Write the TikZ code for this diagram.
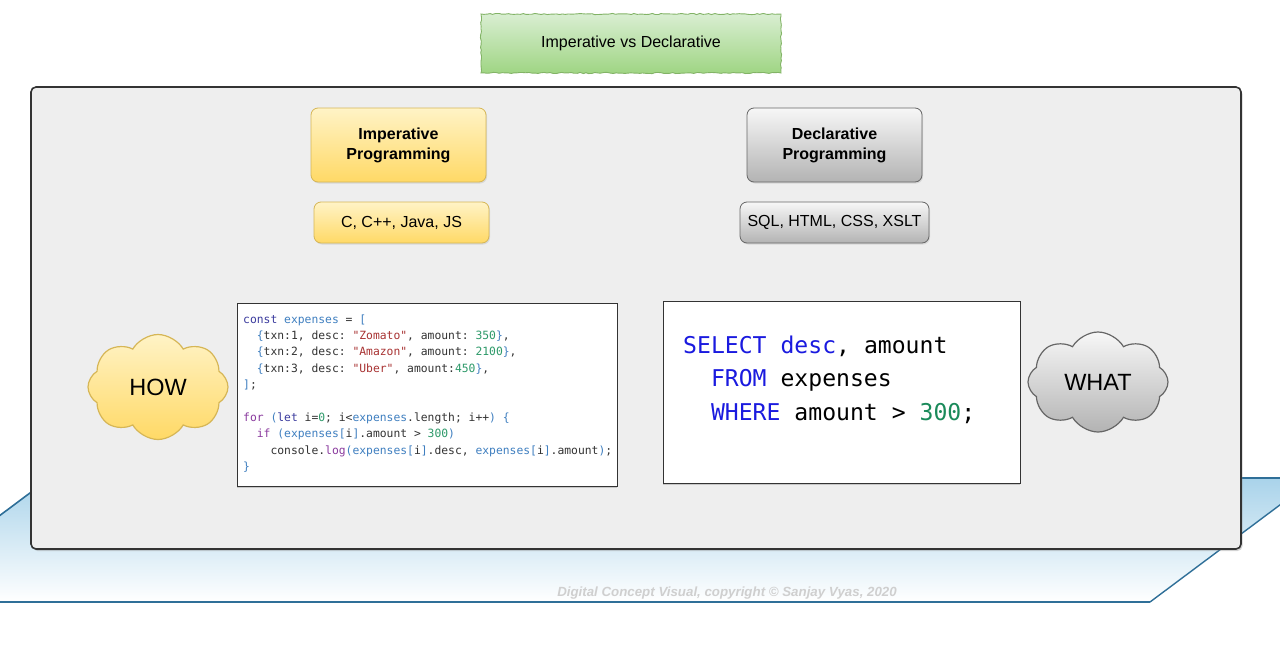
\documentclass[tikz,border=0pt]{standalone}
\usepackage{fontspec}
\setmainfont{Liberation Sans}
\newfontfamily\codefont{DejaVu Sans Mono}
\usetikzlibrary{shapes.symbols,shadows,decorations.pathmorphing}
\definecolor{panelfill}{HTML}{EEEEEE}
\definecolor{paneldraw}{HTML}{333333}
\definecolor{yeltop}{HTML}{FFF3C6}
\definecolor{yelbot}{HTML}{FFD966}
\definecolor{yeldraw}{HTML}{D6B656}
\definecolor{graytop}{HTML}{F7F7F7}
\definecolor{graybot}{HTML}{B3B3B3}
\definecolor{graydraw}{HTML}{666666}
\definecolor{grntop}{HTML}{D9EED2}
\definecolor{grnbot}{HTML}{9FD583}
\definecolor{grndraw}{HTML}{82B366}
\definecolor{bandtop}{HTML}{A9D3EA}
\definecolor{bandline}{HTML}{2F6F98}
\definecolor{ckw}{HTML}{8A3A9E}
\definecolor{ccst}{HTML}{3B3B9E}
\definecolor{cvar}{HTML}{3F7FC0}
\definecolor{cstr}{HTML}{A83232}
\definecolor{cnum}{HTML}{2E9A6A}
\definecolor{cpl}{HTML}{333333}
\definecolor{sqlkw}{HTML}{1A1ADF}
\definecolor{sqlnum}{HTML}{1A8A5A}
\definecolor{copy}{HTML}{CFCFCF}
\newcommand{\KW}[1]{\textcolor{ckw}{#1}}
\newcommand{\CS}[1]{\textcolor{ccst}{#1}}
\newcommand{\VR}[1]{\textcolor{cvar}{#1}}
\newcommand{\ST}[1]{\textcolor{cstr}{#1}}
\newcommand{\NM}[1]{\textcolor{cnum}{#1}}
\newcommand{\SK}[1]{\textcolor{sqlkw}{#1}}
\newcommand{\SN}[1]{\textcolor{sqlnum}{#1}}
\tikzset{
  x=1pt, y=-1pt,
  panelbox/.style={draw=paneldraw, line width=1.6pt, fill=panelfill, rounded corners=5pt,
    minimum width=1210pt, minimum height=462pt, inner sep=0pt,
    drop shadow={opacity=0.35, shadow xshift=1.5pt, shadow yshift=-2pt}},
  yelbox/.style={draw=yeldraw, line width=0.8pt, top color=yeltop, bottom color=yelbot,
    rounded corners=7pt, inner sep=0pt, align=center, font=\fontsize{16}{19}\selectfont,
    drop shadow={opacity=0.2, shadow xshift=1pt, shadow yshift=-1.5pt}},
  graybox/.style={draw=graydraw, line width=0.8pt, top color=graytop, bottom color=graybot,
    rounded corners=7pt, inner sep=0pt, align=center, font=\fontsize{16}{19}\selectfont,
    drop shadow={opacity=0.2, shadow xshift=1pt, shadow yshift=-1.5pt}},
  codebox/.style={draw=black!80, line width=0.8pt, fill=white, inner sep=0pt,
    drop shadow={opacity=0.35, shadow xshift=0pt, shadow yshift=-1.5pt}},
  jsline/.style={anchor=base west, inner sep=0pt, text=cpl, font=\codefont\frenchspacing\fontsize{11.35}{13}\selectfont},
  sqlline/.style={anchor=base west, inner sep=0pt, text=black, font=\codefont\frenchspacing\fontsize{23.1}{27}\selectfont},
  cloudnode/.style={cloud, cloud puffs=8, cloud puff arc=120, aspect=1.35, inner sep=0pt,
    line width=1.2pt, font=\fontsize{23.5}{28}\selectfont},
  titlebox/.style={draw=grndraw, line width=0.9pt, top color=grntop, bottom color=grnbot,
    minimum width=300pt, minimum height=59pt, inner sep=0pt, font=\fontsize{16}{19}\selectfont,
    decorate, decoration={random steps, segment length=3pt, amplitude=0.6pt}}
}
\begin{document}
\begin{tikzpicture}
\pgfmathsetseed{7}
\useasboundingbox (0,0) rectangle (1280,645);
% background band
\begin{scope}
\clip (0,0) rectangle (1280,645);
\path[top color=bandtop, bottom color=white] (50,478) -- (1316,478) -- (1150,602) -- (-116,602) -- cycle;
\draw[bandline, line width=1.6pt] (1316,478) -- (50,478) -- (-116,602);
\draw[bandline, line width=1.4pt] (1316,478) -- (1150,602);
\draw[bandline, line width=2.6pt] (-116,602) -- (1150,602);
\end{scope}
% panel
\node[panelbox] (panel) at (636,318) {};
% title
\node[titlebox] (title) at (631,43.5) {Imperative vs Declarative};
% header boxes
\node[yelbox, minimum width=175pt, minimum height=74pt, font=\bfseries\fontsize{16}{20}\selectfont] (imp) at (398.5,145) {Imperative\\Programming};
\node[yelbox, minimum width=175pt, minimum height=41pt] (implang) at (401.5,222.5) {C, C++, Java, JS};
\node[graybox, minimum width=175pt, minimum height=74pt, font=\bfseries\fontsize{16}{20}\selectfont] (dec) at (834.5,145) {Declarative\\Programming};
\node[graybox, minimum width=189pt, minimum height=41pt] (declang) at (834.5,222.5) {SQL, HTML, CSS, XSLT};
% code boxes
\node[codebox, minimum width=380pt, minimum height=183pt] (jsbox) at (427,394.5) {};
\node[codebox, minimum width=357pt, minimum height=182pt] (sqlbox) at (841.5,392) {};
% JS code
\node[jsline] (c1) at (243,323) {\CS{const} \VR{expenses} = \VR{[}};
\node[jsline] (c2) at (243,339.4) {\ \ \VR{\{}txn:1, desc: \ST{"Zomato"}, amount: \NM{350}\VR{\}},};
\node[jsline] (c3) at (243,355.8) {\ \ \VR{\{}txn:2, desc: \ST{"Amazon"}, amount: \NM{2100}\VR{\}},};
\node[jsline] (c4) at (243,372.2) {\ \ \VR{\{}txn:3, desc: \ST{"Uber"}, amount:\NM{450}\VR{\}},};
\node[jsline] (c5) at (243,388.6) {\VR{]};};
\node[jsline] (c7) at (243,421.4) {\KW{for} \VR{(}\CS{let} i=\NM{0}; i<\VR{expenses}.length; i++\VR{)} \VR{\{}};
\node[jsline] (c8) at (243,437.8) {\ \ \KW{if} \VR{(expenses[}i\VR{]}.amount > \NM{300}\VR{)}};
\node[jsline] (c9) at (243,454.2) {\ \ \ \ console.\KW{log}\VR{(expenses[}i\VR{]}.desc, \VR{expenses[}i\VR{]}.amount\VR{)};};
\node[jsline] (c10) at (243,470.6) {\VR{\}}};
% SQL code
\node[sqlline] (s1) at (683,353) {\SK{SELECT} \SK{desc}, amount};
\node[sqlline] (s2) at (683,386.5) {\ \ \SK{FROM} expenses};
\node[sqlline] (s3) at (683,420) {\ \ \SK{WHERE} amount > \SN{300};};
% clouds
\node[cloudnode, draw=yeldraw, top color=yeltop, bottom color=yelbot, minimum width=140pt, minimum height=105pt] (how) at (158,387) {HOW};
\node[cloudnode, draw=graydraw, top color=graytop, bottom color=graybot, minimum width=140pt, minimum height=100pt] (what) at (1098,382) {WHAT};
% copyright
\node[text=copy, font=\bfseries\itshape\fontsize{13.3}{16}\selectfont, inner sep=0pt] (copyr) at (727,593) {Digital Concept Visual, copyright © Sanjay Vyas, 2020};
\end{tikzpicture}
\end{document}
